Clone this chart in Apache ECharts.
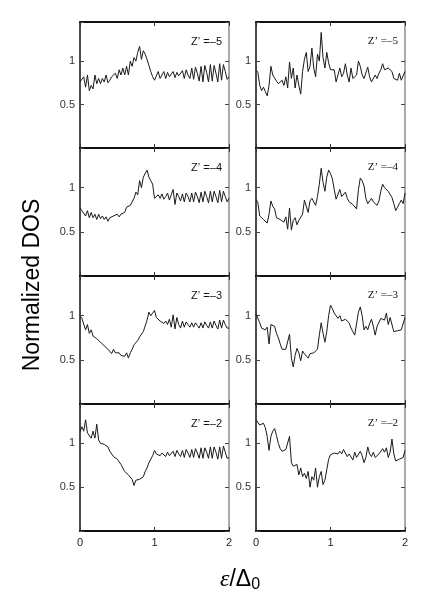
<!DOCTYPE html>
<html><head><meta charset="utf-8">
<script src="https://cdn.jsdelivr.net/npm/echarts@6/dist/echarts.min.js"></script>
<style>html,body{margin:0;padding:0;background:#fff}#c{width:440px;height:605px}</style>
</head><body><div id="c"></div>
<script>
// energy axis eps/Delta0
const X = [0,0.025,0.05,0.075,0.1,0.125,0.15,0.175,0.2,0.225,
0.25,0.275,0.3,0.325,0.35,0.375,0.4,0.425,0.45,0.475,
0.5,0.525,0.55,0.575,0.6,0.625,0.65,0.675,0.7,0.725,
0.75,0.775,0.8,0.825,0.85,0.875,0.9,0.925,0.95,0.975,
1,1.025,1.05,1.075,1.1,1.125,1.15,1.175,1.2,1.225,
1.25,1.275,1.3,1.325,1.35,1.375,1.4,1.425,1.45,1.475,
1.5,1.525,1.55,1.575,1.6,1.625,1.65,1.675,1.7,1.725,
1.75,1.775,1.8,1.825,1.85,1.875,1.9,1.925,1.95,1.975,2];

// left column
const left_m5 = [0.76,0.74,0.82,0.70,0.84,0.66,0.72,0.68,0.84,0.74,
0.80,0.74,0.80,0.76,0.84,0.75,0.78,0.82,0.80,0.86,
0.80,0.90,0.84,0.92,0.84,0.94,0.84,1.00,0.94,1.04,
1.00,1.10,1.17,1.02,1.12,1.08,1.02,0.95,0.88,0.82,
0.78,0.77,0.88,0.80,0.82,0.88,0.80,0.87,0.82,0.83,
0.88,0.81,0.87,0.83,0.82,0.89,0.80,0.90,0.84,0.80,
0.92,0.79,0.93,0.86,0.77,0.94,0.76,0.95,0.87,0.76,
0.96,0.77,0.95,0.86,0.76,0.97,0.78,0.96,0.88,0.79,0.82];
const left_m4 = [0.77,0.74,0.76,0.68,0.74,0.66,0.72,0.66,0.70,0.64,
0.70,0.65,0.68,0.64,0.67,0.62,0.66,0.64,0.68,0.66,
0.70,0.67,0.70,0.69,0.72,0.78,0.79,0.80,0.82,0.88,
0.95,0.92,1.08,1.00,1.12,1.10,1.20,1.12,1.08,1.04,
0.88,0.90,0.92,0.88,0.93,0.87,0.90,0.94,0.86,0.92,
0.98,0.81,0.94,0.90,0.85,0.93,0.84,0.94,0.90,0.84,
0.94,0.84,0.95,0.90,0.83,0.95,0.84,0.96,0.90,0.83,
0.96,0.84,0.96,0.90,0.83,0.97,0.84,0.96,0.90,0.84,0.88];
const left_m3 = [1.00,0.97,0.95,0.84,0.90,0.80,0.84,0.77,0.78,0.74,
0.73,0.70,0.69,0.66,0.66,0.62,0.63,0.57,0.62,0.58,
0.56,0.58,0.55,0.56,0.54,0.58,0.52,0.58,0.62,0.67,
0.66,0.72,0.76,0.78,0.82,0.80,0.95,1.04,1.00,1.03,
1.06,0.98,1.00,0.94,0.96,0.91,0.94,0.90,0.96,0.87,
1.01,0.85,0.98,0.90,0.86,0.94,0.87,0.93,0.90,0.87,
0.92,0.87,0.92,0.89,0.86,0.92,0.86,0.93,0.89,0.86,
0.93,0.86,0.94,0.89,0.85,0.95,0.86,0.95,0.90,0.86,0.86];
const left_m2 = [1.13,1.19,1.14,1.27,1.12,1.10,1.06,1.14,1.06,1.22,
1.04,1.00,1.01,0.99,0.98,0.96,0.91,0.89,0.85,0.86,
0.82,0.80,0.76,0.74,0.68,0.66,0.64,0.62,0.59,0.52,
0.58,0.56,0.59,0.58,0.62,0.68,0.72,0.78,0.80,0.86,
0.92,0.88,0.90,0.86,0.89,0.88,0.85,0.90,0.86,0.87,
0.91,0.85,0.92,0.88,0.85,0.92,0.84,0.93,0.89,0.84,
0.93,0.84,0.94,0.89,0.83,0.95,0.83,0.95,0.90,0.83,
0.96,0.83,0.96,0.90,0.82,0.96,0.83,0.97,0.90,0.83,0.84];

// right column
const right_m5 = [0.90,0.87,0.72,0.66,0.70,0.65,0.60,0.72,0.94,0.84,
0.84,0.77,0.74,0.72,0.78,0.72,0.82,0.69,0.99,0.80,
0.92,0.69,0.84,0.72,0.62,0.88,1.02,1.10,0.88,0.94,
1.15,0.92,0.82,1.08,1.00,1.33,1.04,0.92,1.10,0.98,
0.90,0.89,0.90,0.76,0.84,0.92,0.82,0.86,0.97,0.84,
0.76,0.92,0.80,0.78,0.84,1.00,0.94,0.84,0.80,0.78,
0.93,0.82,0.76,0.74,0.84,0.80,0.86,0.90,0.97,0.90,
0.92,0.92,0.94,0.88,0.80,0.78,0.78,0.86,0.78,0.80,0.88];
const right_m4 = [0.87,0.83,0.68,0.66,0.64,0.66,0.60,0.70,0.85,0.79,
0.76,0.66,0.65,0.64,0.65,0.61,0.67,0.53,0.77,0.52,
0.63,0.66,0.58,0.63,0.62,0.70,0.86,0.85,0.72,0.85,
0.88,0.87,0.80,0.90,1.04,1.22,1.06,0.96,1.12,1.20,
1.16,1.10,0.98,0.87,0.86,0.98,0.90,0.88,0.95,0.88,
0.84,0.84,0.81,0.79,0.76,0.98,1.11,1.08,1.02,0.88,
0.82,0.85,0.88,0.84,0.82,0.80,0.85,0.96,1.04,1.00,
1.02,0.96,0.94,0.89,0.82,0.74,0.78,0.82,0.86,0.82,0.94];
const right_m3 = [1.02,1.00,0.92,0.86,0.87,0.84,0.87,0.68,0.90,0.89,
0.88,0.80,0.75,0.68,0.62,0.63,0.62,0.64,0.79,0.52,
0.42,0.55,0.63,0.58,0.49,0.60,0.57,0.55,0.52,0.57,
0.55,0.58,0.59,0.62,0.78,0.92,0.80,0.70,0.82,1.00,
1.12,1.08,1.03,1.05,0.97,1.00,0.94,0.92,0.96,0.97,
0.92,0.86,0.82,0.78,0.76,1.04,1.10,1.00,0.84,0.88,
0.84,0.91,0.96,0.88,0.78,0.88,0.90,0.97,0.99,0.95,
1.03,0.90,0.98,0.96,0.82,0.82,0.83,0.82,0.84,0.84,0.98];
const right_m2 = [1.27,1.25,1.21,1.19,1.23,1.18,1.08,0.92,1.08,1.14,
1.17,1.09,1.00,0.94,0.91,0.89,0.93,0.91,1.08,0.78,
0.74,0.72,0.76,0.64,0.72,0.62,0.66,0.60,0.68,0.50,
0.62,0.58,0.72,0.50,0.62,0.68,0.53,0.58,0.70,0.82,
0.87,0.85,0.89,0.89,0.88,0.91,0.88,0.93,0.92,0.85,
0.88,0.86,0.81,0.90,0.84,0.86,0.91,0.86,0.78,0.84,
0.96,0.88,0.85,0.90,0.84,0.82,0.88,0.87,0.94,0.90,
0.95,0.84,0.90,1.05,0.88,0.80,0.82,0.82,0.84,0.84,0.92];

const panelLabels = ['Z\u2019 =\u20135','Z\u2019 =\u20134','Z\u2019 =\u20133','Z\u2019 =\u20132'];
const yTickLabels = [0.5, 1];
const xTickLabels = [0, 1, 2];

const leftSeries = [left_m5, left_m4, left_m3, left_m2];
const rightSeries = [right_m5, right_m4, right_m3, right_m2];

const rowTops = [22, 148, 276, 404];
const rowHeights = [126, 128, 128, 127];
const colLefts = [80, 256];
const colWidth = 149;

const grids = [], xAxes = [], yAxes = [], series = [], graphics = [];
let gi = 0;
for (let c = 0; c < 2; c++) {
  for (let r = 0; r < 4; r++) {
    grids.push({left: colLefts[c], top: rowTops[r], width: colWidth, height: rowHeights[r], containLabel: false});
    const isBottom = r === 3;
    const xBase = {
      type: 'value', gridIndex: gi, min: 0, max: 2, interval: 1,
      splitLine: {show: false},
      axisTick: {show: true, inside: true, length: 4, lineStyle: {color: '#333', width: 1}},
    };
    xAxes.push(Object.assign({}, xBase, {
      position: 'bottom',
      axisLine: {show: true, onZero: false, lineStyle: {color: '#111', width: 2}},
      axisLabel: {show: isBottom, fontSize: 11, color: '#222', margin: 6, fontFamily: 'Liberation Sans',
        formatter: v => xTickLabels.indexOf(v) >= 0 ? String(v) : ''},
    }));
    xAxes.push(Object.assign({}, xBase, {
      position: 'top',
      axisLine: {show: true, onZero: false, lineStyle: {color: '#111', width: 2}},
      axisLabel: {show: false},
    }));
    const yBase = {
      type: 'value', gridIndex: gi, min: 0, max: 1.45, interval: 0.5,
      splitLine: {show: false},
      axisTick: {show: true, inside: true, length: 4, lineStyle: {color: '#444', width: 1}},
    };
    yAxes.push(Object.assign({}, yBase, {
      position: 'left',
      axisLine: {show: true, onZero: false, lineStyle: {color: '#111', width: 1.5}},
      axisLabel: {show: true, fontSize: 11, color: '#333', margin: 5, fontFamily: 'Liberation Sans',
        formatter: v => yTickLabels.indexOf(v) >= 0 ? String(v) : ''},
    }));
    yAxes.push(Object.assign({}, yBase, {
      position: 'right',
      axisLine: {show: true, onZero: false, lineStyle: {color: '#aaa', width: 2}},
      axisLabel: {show: false},
    }));
    const ys = c === 0 ? leftSeries[r] : rightSeries[r];
    series.push({
      type: 'line', xAxisIndex: gi * 2, yAxisIndex: gi * 2,
      data: X.map((x, i) => [x, ys[i]]),
      showSymbol: false, smooth: false, clip: true, animation: false,
      lineStyle: {color: '#1a1a1a', width: 1},
      z: 3
    });
    graphics.push({
      type: 'text', right: 440 - (c === 0 ? 222 : 398), top: rowTops[r] + 14,
      style: {text: panelLabels[r], font: '11px ' + (c === 0 ? '"Liberation Sans"' : '"Liberation Serif"'), fill: '#111'}
    });
    gi++;
  }
}

graphics.push({
  type: 'text', x: 33, y: 285, rotation: Math.PI / 2,
  style: {text: 'Normalized DOS', font: '23px "Liberation Sans"', fill: '#000', align: 'center', verticalAlign: 'middle'}
});
graphics.push({
  type: 'text', x: 240, y: 580,
  style: {
    text: '{e|\u03b5}{s|/\u0394}{sub|0}',
    align: 'center', verticalAlign: 'middle',
    rich: {
      e: {font: 'italic 24px "Liberation Serif"', fill: '#000'},
      s: {font: '23px "Liberation Sans"', fill: '#000'},
      sub: {font: '16px "Liberation Sans"', fill: '#000', padding: [10, 0, 0, 0]}
    }
  }
});

const chart = echarts.init(document.getElementById('c'), null, {renderer: 'canvas'});
chart.setOption({
  animation: false,
  backgroundColor: '#fff',
  grid: grids, xAxis: xAxes, yAxis: yAxes, series: series,
  graphic: graphics
});
</script>
</body></html>
